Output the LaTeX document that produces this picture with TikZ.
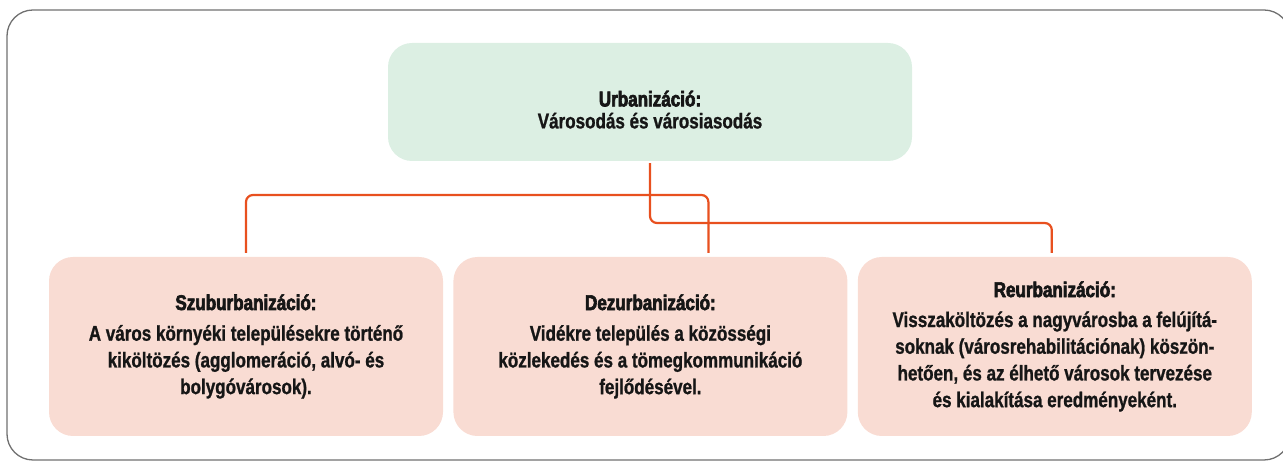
\documentclass[tikz,border=0pt]{standalone}
\usepackage{fontspec}
\setmainfont{Liberation Sans}[FakeStretch=0.8,FakeBold=1]
\newfontfamily\headfont{Liberation Sans}[FakeStretch=0.8,FakeBold=3]
\usetikzlibrary{positioning}
\definecolor{urbgreen}{HTML}{DCEFE3}
\definecolor{urbpink}{HTML}{F9DCD3}
\definecolor{urborange}{HTML}{E8501F}
\definecolor{framegray}{HTML}{707070}
\definecolor{txtblack}{HTML}{161616}
\newcommand\boxhead[1]{{\headfont\bfseries #1}}

\begin{document}
\begin{tikzpicture}[
  x=1pt, y=1pt,
  font=\fontsize{21.3}{26.7}\selectfont\bfseries,
  node distance=10pt,
  topbox/.style={fill=urbgreen, text=txtblack, rounded corners=24pt, align=center, minimum width=524pt, minimum height=118pt, inner sep=0pt, text height=53pt, font=\fontsize{21.3}{22}\selectfont\bfseries},
  subbox/.style={fill=urbpink, text=txtblack, rounded corners=24pt, align=center, minimum width=394pt, minimum height=179pt, inner sep=0pt},
  conn/.style={draw=urborange, line width=2.2pt, rounded corners=7pt}
]
  \useasboundingbox (0,0) rectangle (1283,462);
  \draw[framegray, line width=1.3pt, rounded corners=26pt] (7,2) rectangle (1290,452);
  \node[topbox] (urban) at (650,360) {\boxhead{Urbanizáció:}\\Városodás és városiasodás};
  \node[subbox] (szub) at (246,115.5) {\boxhead{Szuburbanizáció:}\\[4pt]A város környéki településekre történő\\kiköltözés (agglomeráció, alvó- és\\bolygóvárosok).};
  \node[subbox, right=of szub] (dezurb) {\boxhead{Dezurbanizáció:}\\[4pt]Vidékre település a közösségi\\közlekedés és a tömegkommunikáció\\fejlődésével.};
  \node[subbox, right=of dezurb] (reurb) {\boxhead{Reurbanizáció:}\\[3.3pt]Visszaköltözés a nagyvárosba a felújítá-\\soknak (városrehabilitációnak) köszön-\\hetően, és az élhető városok tervezése\\és kialakítása eredményeként.};
  \coordinate (upper) at (0,267);
  \coordinate (lower) at (0,239);
  \draw[conn] ([yshift=4pt]szub.north) -- (szub.north |- upper) -- ([xshift=58pt]dezurb.north |- upper) -- ([xshift=58pt,yshift=4pt]dezurb.north);
  \draw[conn] ([yshift=-2pt]urban.south) -- (urban.south |- lower) -- ([xshift=-3pt]reurb.north |- lower) -- ([xshift=-3pt,yshift=4pt]reurb.north);
\end{tikzpicture}
\end{document}
